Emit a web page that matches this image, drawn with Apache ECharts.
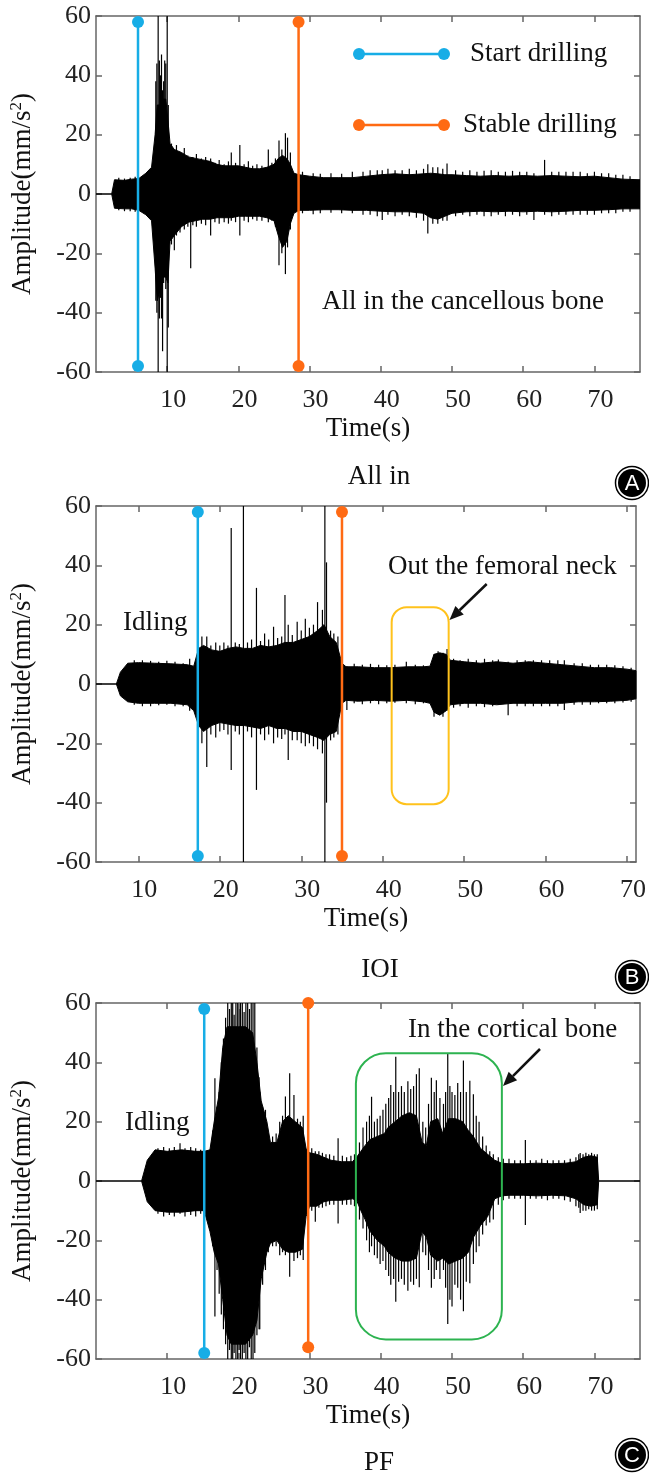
<!DOCTYPE html>
<html><head><meta charset="utf-8">
<script src="https://cdn.jsdelivr.net/npm/echarts@6/dist/echarts.min.js"></script>
<style>html,body{margin:0;padding:0;background:#fff}#c{width:649px;height:1475px}</style>
</head><body><div id="c"></div>
<script>
// ---------- Panel A (All in) ----------
const aT  = [0,2.2,2.6,4,5,6,7,7.8, 8.3,8.6,9.0,9.4,9.8,10.1,10.4,11, 12,13,14,15,16,17,18,19, 20,21,22,23,24,25,25.6,26.2, 26.8,27.3,27.8,28.5,30,32,34,36, 38,40,42,44,46,47,48,49, 50,52,54,56,58,60,62,64, 66,68,70,72,74,76.4];
const aHi = [0,0,4.8,4.6,5,5.2,7,9, 20,30,30,32,32,25,17,15, 14,12.5,12,11.5,11,10,9.5,9.5, 9.5,9,8.5,8.5,9,10,12,13, 12,10,7,6.5,6,5.5,5.5,5.5, 6,6.5,6.8,6.5,6.8,7,6.8,6.5, 6.5,6.2,6,6.2,6,6.2,6,6.2, 6,5.8,6,5.5,5,4.8];
const aLo = [0,0,-4.8,-5,-5,-5.5,-7,-9, -25,-36,-32,-28,-28,-30,-16,-14, -11,-9.5,-9,-8.5,-8.5,-8,-8,-8, -7.5,-7.5,-7.5,-7.5,-8,-9,-14,-18, -16,-10,-6.5,-5.5,-5.5,-5.3,-5.3,-5.5, -5.5,-5.8,-6,-6,-6.5,-8,-8.5,-7.5, -6.5,-6,-5.8,-6,-5.8,-6,-5.8,-6, -5.8,-5.5,-5.5,-5.3,-5,-5];
const aSpT  = [3.2,4.0,4.8,5.5, 8.4,8.55,8.73,8.9,9.05,9.2,9.35,9.5,9.65,9.8,10.0,10.15,
  10.6,11.0,11.3,11.8,12.4,12.9,13.3,13.6,14.1,14.8,15.4,16.1,16.7,17.3,18.0,18.6,19.0,19.6,20.2,20.8,21.4,22.0,22.6,23.3,24.2,24.7,25.2,25.7,26.1,26.6,26.9,27.3,
  29,30.5,31.5,33,34.5,36,37.5,38.5,39.5,40.2,41,42,43,44,45,46,46.6,47.3,48,48.7,49.3,50.5,51.5,52.5,53.5,54.5,55.5,56.5,57.5,58.5,59.5,60.5,61.5,63,64,65,66,67,68,69,70,71,72,73,74,75];
const aSpHi = [5.5,5.2,5.5,5.8, 38,44,60,45,40,47,35,38,45,44,60,30,
  17,15,16.5,14,15.5,13,12,12.5,13.5,12,12.5,12,10.5,11.5,10,11,14,10.5,16.5,10,11,9.5,10,9.5,15,10.5,12,18,15,20.5,19,14,
  7.5,7,6.8,7,6.8,7.5,7.5,8,8,8,8.5,8,8,8.5,8,8.5,10,9,9,8.5,10.3,8,7.5,8,7.5,7.8,8,7.5,7.5,7.8,7.5,7.5,7,11.5,7.5,7.5,7.5,7.5,7.5,7,7.5,7,7,6.5,6.5,6];
const aSpLo = [-5.5,-5.8,-5.8,-6, -36,-40,-60,-42,-35,-42,-53,-30,-28,-32,-60,-45,
  -17,-19,-14,-13,-12,-11,-25,-10.5,-11,-10,-10.5,-14,-9.5,-10,-9.5,-10,-9,-9.5,-14,-9,-9.5,-8.5,-9,-9,-9.5,-9,-11,-24,-20,-27,-18,-12,
  -6.5,-6.8,-6.5,-6.3,-6.5,-6.5,-7,-7,-7.5,-8.8,-7,-7.5,-7,-7.5,-8,-9,-13.3,-10,-10,-9,-9,-7.5,-7,-7.5,-7,-7.5,-7.5,-7,-7.5,-7,-7.5,-7,-8.8,-7,-7.5,-7,-7,-7,-7,-7,-7,-6.5,-6.5,-6.5,-6,-6];
const aStart = 5.9, aStable = 28.45;
const aStartY = [-58, 58], aStableY = [-58, 58];

// ---------- Panel B (IOI) ----------
const bT  = [4.8,7.3,7.8,8.7,10,12,14,16, 16.8,17.4,18,19,20,21,22,23, 24,25,26,27,28,29,30,31, 32,32.8,33.5,34.3,35.0,35.5,37,39, 41,43,45,45.8,46.3,47,47.8,48.3, 50,52,54,56,58,60,62,64, 66,68,70,71.1];
const bHi = [0,0,4,7,7.2,7,6.8,6.5, 6,12,13,11.5,11,12,12.5,12, 12,13,12.5,13,14,14,15,16, 18,20,16,14,7,5.8,5.8,5.5, 5.5,5.8,5.8,6,10,10.5,10,8, 7.5,7,7.5,7,7.5,7,6.5,6, 5.5,5.5,5,4.5];
const bLo = [0,0,-4,-6,-6.5,-6.5,-6.5,-7, -9,-14,-16,-14,-13,-13.5,-14,-14, -14.5,-15,-14,-15,-15,-16,-16,-17, -18,-19,-17,-16,-6.5,-5.5,-5.8,-5.5, -5.8,-5.5,-6,-6.5,-9.5,-10.5,-9,-7, -6.5,-6.5,-7,-6.5,-6.5,-6.5,-6.5,-6, -6,-5.8,-5.5,-5];
const bSpT  = [9.5,10.5,11.5,12.5,13.5,14.5,15.5,16.3,
  17.8,18.4,18.9,19.5,20.0,20.5,21.0,21.4,21.9,22.4,22.9,23.4,23.9,24.5,25.0,25.5,26.0,26.6,27.1,27.6,28.0,28.4,28.9,29.5,30.0,30.5,31.0,31.5,32.0,32.6,32.9,33.1,33.6,34.0,34.5,
  35.6,36.5,37.5,38.5,39.5,40.5,41.5,42.9,44,45,46.3,46.8,47.4,47.9,48.7,49.5,50.5,51.5,52.5,53.5,54.2,55.4,56.5,57.5,58.5,59.5,60.5,61.5,62.3,63.5,64.5,65.5,66.5,67.5,68.5,69.5,70.5];
const bSpHi = [8,8,7.8,7.5,7.8,7.5,7,8.5,
  16,16,13,14,13,14,13,52.6,14,13.5,60,14,15,32.4,14.5,17,15,19.3,15.5,16,30,20,16.5,21,18,22,19,20,27.6,25,60,41,18,17,16,
  6,6.8,6.5,6.8,6.5,6.3,6.5,7.5,6.5,6.3,10,11,10.5,11.8,8.5,8,8.5,8,8.5,8,8.3,7.5,8,8,8,8,8,8,8,7,7,6.5,6.5,6.5,6.3,6,5.5];
const bSpLo = [-7,-7.5,-7.5,-7.2,-7,-7.5,-7.5,-9,
  -20,-28,-17,-18,-16,-15.5,-17,-29,-16,-17,-60,-16,-18,-35.7,-17,-19,-17,-20,-18,-18.5,-17,-25.6,-19,-19,-20,-21,-20,-21,-22,-23.4,-60,-40,-19,-18,-17,
  -8.8,-6.5,-6.8,-6.5,-6.8,-6.5,-6.3,-6.5,-6.8,-6.5,-11,-10,-11,-9,-8,-7.5,-8,-7.5,-7.8,-7.5,-7,-10.5,-7.5,-7.5,-7.5,-7.5,-7.5,-7.5,-8.8,-7,-7,-7,-6.5,-6.5,-6.5,-6.2,-6];
const bStart = 17.3, bStable = 35.0;
const bStartY = [-58, 58], bStableY = [-58, 58];
const bBox = [41.1, 48.1, -40.5, 25.9];

// ---------- Panel C (PF) ----------
const cT  = [0,6.4,7.2,8.3,10,12,14,15.2, 16.0,16.6,17.2,17.8,18.4,19,20,21, 22,22.6,23.2,24,24.5,25.4,26.2,27, 28,29,29.5,30,31,32,33,34.5, 36,36.6,37.2,37.8,38.5,39.5,40.5,41, 42,43,44,45,45.8,46.4,47,48, 48.7,49.5,50.5,51.5,52.3,53,54,55, 56,57,58,60,62,64,66,67.4, 68.5,69.5,70.4,70.6,76.4];
const cHi = [0,0,7,10.5,10,10.5,10,10, 10.5,20,28,45,52,52,52,52, 50,40,27,20,13,13,20,22, 20,18,11,9.5,9,8,7,6.5, 6.5,8,10,12,14,15,16,18, 20,22,23,22,13,12,20,21, 16,21,21,20,17,15,11,9, 7,6,5.8,5.8,6,5.8,6,6.5, 8,8.5,8,0,0];
const cLo = [0,0,-7,-10,-10.5,-10.5,-10,-10, -17,-24,-28,-40,-52,-55,-55,-55, -52,-47,-33,-24,-21,-20,-23,-24, -24,-23,-12,-8.5,-8.5,-7,-6.5,-6.5, -6,-6.5,-10,-13,-17,-20,-22,-24, -26,-27,-27,-26,-17,-19,-25,-27, -26,-28,-27,-26,-24,-19,-15,-12, -6,-5,-4.8,-4.8,-5,-4.8,-5,-6, -8,-8.5,-8,0,0];
const cSpT  = [8.7,9.5,10.3,11.0,11.8,12.5,13.3,14.0,14.7,
  16.4,16.7,17.0,17.3,17.6,17.9,18.2,18.5,18.75,19.0,19.2,19.4,19.65,19.9,20.1,20.3,20.55,20.8,21.05,21.3,21.55,21.8,22.05,22.3,22.6,22.9,23.0,23.4,23.8,24.2,24.8,25.3,25.8,26.2,26.6,27.2,27.8,28.3,28.7,29.1,
  30.3,30.8,31.3,31.8,32.3,32.8,33.4,34.0,34.6,35.2,35.8,36.3,
  37.0,37.5,38.0,38.4,38.7,39.1,39.5,39.9,40.3,40.7,41.1,41.4,41.8,42.1,42.5,42.9,43.3,43.8,44.2,44.6,45.0,45.4,45.9,46.3,46.7,47.1,47.5,47.8,48.3,48.8,49.1,49.4,49.7,50.0,50.4,50.8,51.2,51.6,52.0,52.5,53.0,53.4,53.8,54.3,54.8,55.3,55.8,
  56.5,57.2,58,58.8,59.6,60.3,61,61.8,62.6,63.4,64.2,65,65.8,66.6,67.4,67.8,68.0,68.4,68.8,69.2,69.6,70.0,70.4];
const cSpHi = [11,11.5,11,11.5,12.7,11,11.5,11,10.5,
  17,34.6,25,30,40,48,55,60,58,60,60,56,60,60,58,60,60,57,60,60,58,60,60,60,45,35,30,25,24,16,15,16,20,22,28.5,36.3,29,21,20,22,
  11,10,10,9.5,9,9,8.5,14.4,8.5,8,8.5,9,
  13,18,20,22,28.4,20,21,22,24,26,28,32.4,30,41.9,30,32,30,33.6,31,32,36,38,20,18,26,34.8,30,34,28,26,30,43,32,30,29,33,30,40.6,30,33.8,29.2,22,20,15,12,10,9,
  8,7.5,7.5,7,7,13.8,7,7,7.5,7,7,7,7,7.5,8,9,9.4,9,9.5,9,9.5,9,9];
const cSpLo = [-11,-12,-11.5,-12,-11,-12,-11.5,-12,-11,
  -22,-45.7,-30,-38,-45,-50,-55,-60,-57,-60,-60,-58,-60,-60,-57,-60,-60,-58,-60,-60,-56,-60,-60,-58,-52,-50,-50,-35,-30,-24,-22,-22,-25,-24,-25,-32.3,-27,-26,-25,-26.6,
  -10,-13.7,-9,-9,-8.5,-8,-8,-14.3,-8,-8,-8,-8.5,
  -13,-16,-20,-24,-22,-25,-26,-28,-27,-30,-32,-35,-33,-40.7,-34,-33,-35,-37,-34,-35,-33,-35.8,-24,-25,-30,-36,-33,-30,-33,-30,-36,-48.2,-40,-42.3,-35,-36,-40,-43.9,-34,-34.5,-28,-24,-22,-18,-15,-14,-13,
  -8,-6.5,-6,-6,-6,-14.8,-6,-6,-6,-6.5,-6,-6,-6.5,-7,-8.5,-9,-10.8,-10,-10,-9.5,-10,-10,-9.5];
const cStart = 15.2, cStable = 29.8;
const cStartY = [-58, 58], cStableY = [-56, 60];
const cBox = [36.5, 57.0, -53.4, 43.1];

// ---------- Axis ticks / text ----------
const xTicks = [10, 20, 30, 40, 50, 60, 70];
const xName = 'Time(s)';
const yName = 'Amplitude(mm/s{s|2})';
const subtitles = ['All in', 'IOI', 'PF'];
const badges = ['A', 'B', 'C'];

const FONT = "'Liberation Serif','Times New Roman',serif";
const BLUE = '#17ADE6', ORANGE = '#FF6A13', AXIS = '#666666';

const grids = [
  {left: 95, top: 16, width: 545, height: 356},
  {left: 93, top: 506, width: 546, height: 356},
  {left: 95, top: 1003, width: 545, height: 356}
];
const xRanges = [[0, 76.4], [4.8, 71.1], [0, 76.4]];

const xAxes = [], yAxes = [];
grids.forEach((g, i) => {
  const common = {type: 'value', gridIndex: i, min: xRanges[i][0], max: xRanges[i][1], splitLine: {show: false},
    axisLine: {show: true, onZero: false, lineStyle: {color: AXIS, width: 1.5}},
    axisTick: {show: true, inside: true, length: 6, customValues: xTicks, lineStyle: {color: AXIS, width: 1.5}}};
  xAxes.push(Object.assign({}, common, {position: 'bottom',
    axisLabel: {show: true, customValues: xTicks, fontFamily: FONT, fontSize: 26, color: '#222', margin: 15, padding: [0, 0, 0, 12]},
    name: xName, nameLocation: 'middle', nameGap: 43, nameTextStyle: {fontFamily: FONT, fontSize: 27, color: '#111'}}));
  xAxes.push(Object.assign({}, common, {position: 'top', axisLabel: {show: false}}));
  const ycommon = {type: 'value', gridIndex: i, min: -60, max: 60, interval: 20, splitLine: {show: false},
    axisLine: {show: true, onZero: false, lineStyle: {color: AXIS, width: 1.5}},
    axisTick: {show: true, inside: true, length: 6, lineStyle: {color: AXIS, width: 1.5}}};
  yAxes.push(Object.assign({}, ycommon, {position: 'left',
    axisLabel: {show: true, fontFamily: FONT, fontSize: 26, color: '#222', margin: 5},
    name: yName, nameLocation: 'middle', nameGap: 58, nameRotate: 90,
    nameTextStyle: {fontFamily: FONT, fontSize: 27, color: '#111',
      rich: {s: {fontFamily: FONT, fontSize: 17, color: '#111', verticalAlign: 'top', lineHeight: 30}}}}));
  yAxes.push(Object.assign({}, ycommon, {position: 'right', axisLabel: {show: false}}));
});

function envelope(i, T, HI, LO) {
  return {type: 'custom', xAxisIndex: 2 * i, yAxisIndex: 2 * i, clip: true, z: 2, silent: true,
    data: [[T[0], 0]],
    renderItem: function (params, api) {
      const pts = [];
      for (let k = 0; k < T.length; k++) pts.push(api.coord([T[k], HI[k]]));
      for (let k = T.length - 1; k >= 0; k--) pts.push(api.coord([T[k], LO[k]]));
      return {type: 'polygon', shape: {points: pts}, style: {fill: '#000', stroke: '#000', lineWidth: 1}};
    }};
}
function spikes(i, T, HI, LO) {
  return {type: 'custom', xAxisIndex: 2 * i, yAxisIndex: 2 * i, clip: true, z: 3, silent: true,
    data: T.map((t, k) => [t, HI[k], LO[k]]),
    encode: {x: 0, y: [1, 2]},
    renderItem: function (params, api) {
      const p1 = api.coord([api.value(0), api.value(1)]);
      const p2 = api.coord([api.value(0), api.value(2)]);
      return {type: 'line', shape: {x1: p1[0], y1: p1[1], x2: p2[0], y2: p2[1]}, style: {stroke: '#000', lineWidth: 1.2}};
    }};
}
function marker(i, t, ys, color) {
  return {type: 'line', xAxisIndex: 2 * i, yAxisIndex: 2 * i, z: 5, clip: false, silent: true,
    data: [[t, ys[0]], [t, ys[1]]], symbol: 'circle', symbolSize: 12, showSymbol: true,
    itemStyle: {color: color}, lineStyle: {color: color, width: 2.5}};
}
function box(i, b, color, radius) {
  return {type: 'custom', xAxisIndex: 2 * i, yAxisIndex: 2 * i, z: 6, silent: true,
    data: [b], encode: {x: [0, 1], y: [2, 3]},
    renderItem: function (params, api) {
      const p0 = api.coord([api.value(0), api.value(3)]);
      const p1 = api.coord([api.value(1), api.value(2)]);
      return {type: 'rect', shape: {x: p0[0], y: p0[1], width: p1[0] - p0[0], height: p1[1] - p0[1], r: radius},
        style: {fill: 'none', stroke: color, lineWidth: 2}};
    }};
}

const series = [
  envelope(0, aT, aHi, aLo), spikes(0, aSpT, aSpHi, aSpLo),
  marker(0, aStart, aStartY, BLUE), marker(0, aStable, aStableY, ORANGE),
  envelope(1, bT, bHi, bLo), spikes(1, bSpT, bSpHi, bSpLo),
  marker(1, bStart, bStartY, BLUE), marker(1, bStable, bStableY, ORANGE),
  box(1, bBox, '#FFC21C', 15),
  envelope(2, cT, cHi, cLo), spikes(2, cSpT, cSpHi, cSpLo),
  marker(2, cStart, cStartY, BLUE), marker(2, cStable, cStableY, ORANGE),
  box(2, cBox, '#2DB350', 30)
];

function txt(x, y, s, size, align) {
  return {type: 'text', x: x, y: y, z: 20,
    style: {text: s, fontFamily: FONT, fontSize: size, fill: '#111', align: align || 'left', verticalAlign: 'middle'}};
}
function arrow(x1, y1, x2, y2) {
  const dx = x2 - x1, dy = y2 - y1, L = Math.hypot(dx, dy), ux = dx / L, uy = dy / L;
  const hl = 14, hw = 6;
  const bx = x2 - ux * hl, by = y2 - uy * hl;
  return [
    {type: 'line', z: 20, shape: {x1: x1, y1: y1, x2: bx, y2: by}, style: {stroke: '#111', lineWidth: 2.5}},
    {type: 'polygon', z: 20, shape: {points: [[x2, y2], [bx - uy * hw, by + ux * hw], [bx + uy * hw, by - ux * hw]]}, style: {fill: '#111'}}
  ];
}
function legendItem(y, color, label, tx) {
  return [
    {type: 'line', z: 20, shape: {x1: 359, y1: y, x2: 444, y2: y}, style: {stroke: color, lineWidth: 2.5}},
    {type: 'circle', z: 21, shape: {cx: 359, cy: y, r: 6}, style: {fill: color}},
    {type: 'circle', z: 21, shape: {cx: 444, cy: y, r: 6}, style: {fill: color}},
    txt(tx, y, label, 27)
  ];
}
function badge(cx, cy, letter) {
  return [
    {type: 'circle', z: 20, shape: {cx: cx, cy: cy, r: 16.5}, style: {fill: '#fff', stroke: '#000', lineWidth: 1.5}},
    {type: 'circle', z: 21, shape: {cx: cx, cy: cy, r: 14}, style: {fill: '#000'}},
    {type: 'text', z: 22, x: cx, y: cy + 1, style: {text: letter, fontFamily: 'Liberation Sans, Arial, sans-serif', fontSize: 22, fill: '#fff', align: 'center', verticalAlign: 'middle'}}
  ];
}

const graphic = [].concat(
  legendItem(54, BLUE, 'Start drilling', 470),
  legendItem(125, ORANGE, 'Stable drilling', 463),
  [txt(322, 302, 'All in the cancellous bone', 27)],
  [txt(379, 477, subtitles[0], 27, 'center')],
  badge(632, 483, badges[0]),
  [txt(123, 623, 'Idling', 27), txt(388, 567, 'Out the femoral neck', 27)],
  arrow(486.7, 584, 449.5, 620),
  [txt(380, 970, subtitles[1], 27, 'center')],
  badge(632, 977, badges[1]),
  [txt(125, 1123, 'Idling', 27), txt(408, 1030, 'In the cortical bone', 27)],
  arrow(540, 1049, 503, 1086),
  [txt(379, 1463, subtitles[2], 27, 'center')],
  badge(632, 1455, badges[2])
);

const chart = echarts.init(document.getElementById('c'), null, {renderer: 'canvas'});
chart.setOption({
  animation: false,
  backgroundColor: '#fff',
  grid: grids,
  xAxis: xAxes,
  yAxis: yAxes,
  series: series,
  graphic: graphic
});
</script>
</body></html>
